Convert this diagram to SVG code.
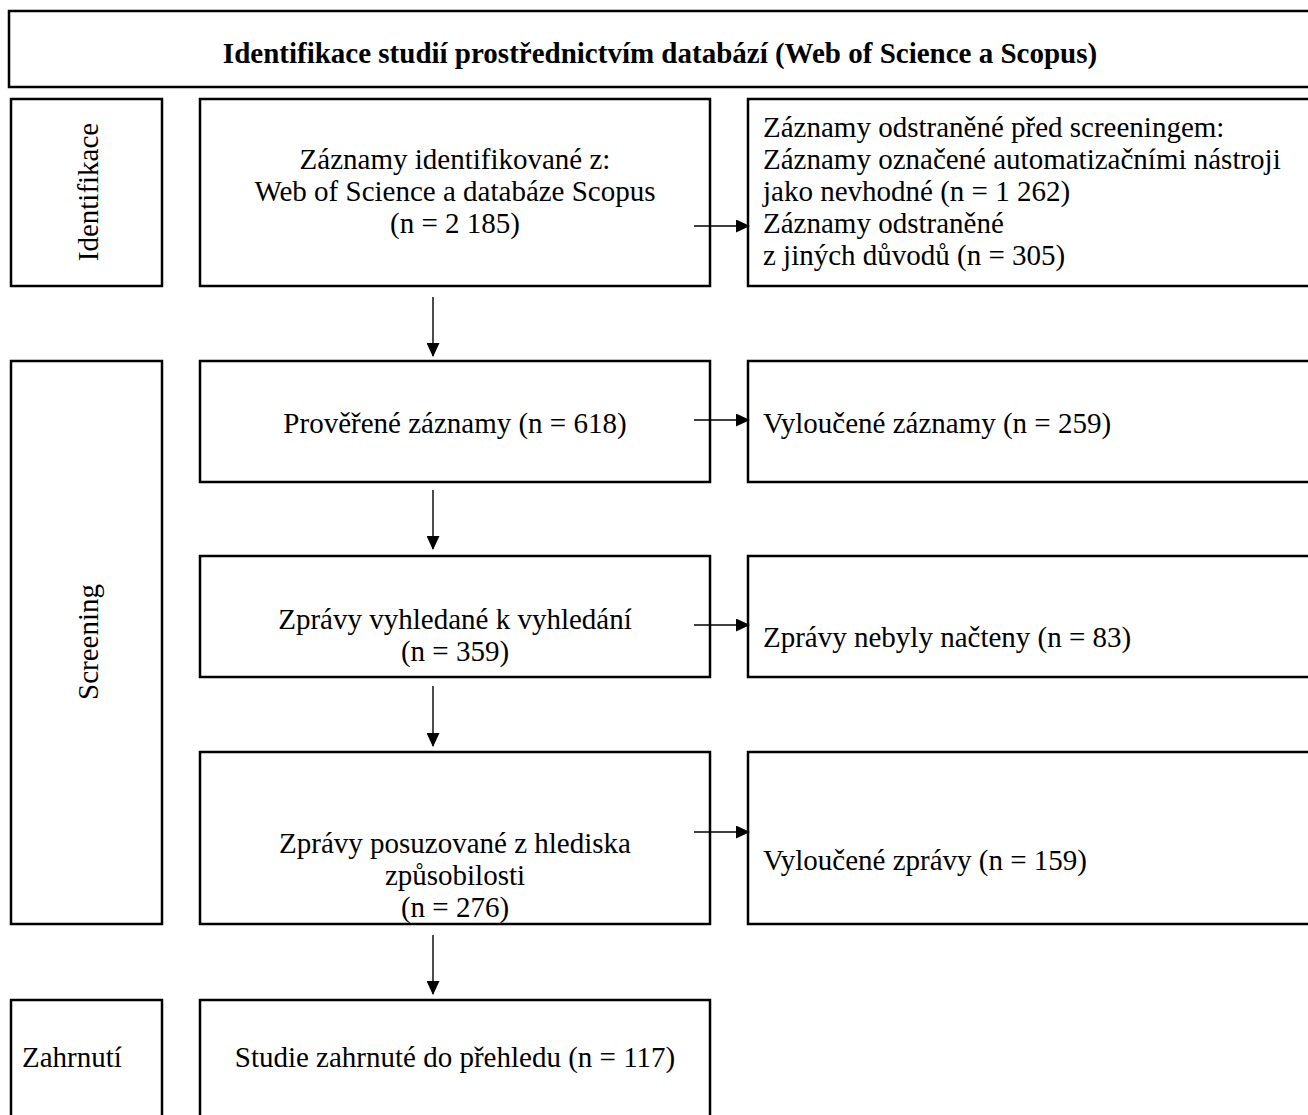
<svg xmlns="http://www.w3.org/2000/svg" width="1308" height="1115" viewBox="0 0 1308 1115">
  <defs>
    <style>
      .box { fill: #fff; stroke: #000; stroke-width: 2.5; }
      .t { font-family: "Liberation Serif", "Times New Roman", serif; font-size: 29px; fill: #000; }
      .c { text-anchor: middle; }
      .h { font-weight: bold; }
      .link { stroke: #000; stroke-width: 1.4; fill: none; marker-end: url(#head); }
    </style>
    <marker id="head" markerWidth="14" markerHeight="13" refX="13" refY="6.5" orient="auto" markerUnits="userSpaceOnUse" viewBox="0 0 14 13">
      <path d="M0,0 L14,6.5 L0,13 Z" fill="#000"/>
    </marker>
  </defs>
  <rect width="1308" height="1115" fill="#fff"/>

  <!-- header band -->
  <g id="header">
    <rect class="box" x="9" y="11" width="1310" height="76"/>
    <text class="t c h" x="660" y="63">Identifikace studií prostřednictvím databází (Web of Science a Scopus)</text>
  </g>

  <!-- phase labels -->
  <g id="phase-identifikace">
    <rect class="box" x="11" y="99" width="151" height="187"/>
    <text class="t c" transform="translate(98,192) rotate(-90)">Identifikace</text>
  </g>
  <g id="phase-screening">
    <rect class="box" x="11" y="361" width="151" height="563"/>
    <text class="t c" transform="translate(98,642) rotate(-90)">Screening</text>
  </g>
  <g id="phase-zahrnuti">
    <rect class="box" x="11" y="1000" width="151" height="130"/>
    <text class="t" x="22" y="1067">Zahrnutí</text>
  </g>

  <!-- main flow -->
  <g id="n-identified">
    <rect class="box" x="200" y="99" width="510" height="187"/>
    <text class="t c" x="455" y="169">Záznamy identifikované z:</text>
    <text class="t c" x="455" y="201">Web of Science a databáze Scopus</text>
    <text class="t c" x="455" y="233">(n = 2 185)</text>
  </g>
  <g id="n-screened">
    <rect class="box" x="200" y="361" width="510" height="121"/>
    <text class="t c" x="455" y="433">Prověřené záznamy (n = 618)</text>
  </g>
  <g id="n-sought">
    <rect class="box" x="200" y="556" width="510" height="121"/>
    <text class="t c" x="455" y="629">Zprávy vyhledané k vyhledání</text>
    <text class="t c" x="455" y="661">(n = 359)</text>
  </g>
  <g id="n-assessed">
    <rect class="box" x="200" y="752" width="510" height="172"/>
    <text class="t c" x="455" y="853">Zprávy posuzované z hlediska</text>
    <text class="t c" x="455" y="885">způsobilosti</text>
    <text class="t c" x="455" y="917">(n = 276)</text>
  </g>
  <g id="n-included">
    <rect class="box" x="200" y="1000" width="510" height="130"/>
    <text class="t c" x="455" y="1067">Studie zahrnuté do přehledu (n = 117)</text>
  </g>

  <!-- exclusion boxes -->
  <g id="x-removed">
    <rect class="box" x="748" y="99" width="580" height="187"/>
    <text class="t" x="763" y="137">Záznamy odstraněné před screeningem:</text>
    <text class="t" x="763" y="169">Záznamy označené automatizačními nástroji</text>
    <text class="t" x="763" y="201">jako nevhodné (n = 1 262)</text>
    <text class="t" x="763" y="233">Záznamy odstraněné</text>
    <text class="t" x="763" y="265">z jiných důvodů (n = 305)</text>
  </g>
  <g id="x-records">
    <rect class="box" x="748" y="361" width="580" height="121"/>
    <text class="t" x="763" y="433">Vyloučené záznamy (n = 259)</text>
  </g>
  <g id="x-notretrieved">
    <rect class="box" x="748" y="556" width="580" height="121"/>
    <text class="t" x="763" y="647">Zprávy nebyly načteny (n = 83)</text>
  </g>
  <g id="x-reports">
    <rect class="box" x="748" y="752" width="580" height="172"/>
    <text class="t" x="763" y="870">Vyloučené zprávy (n = 159)</text>
  </g>

  <!-- connectors -->
  <g id="connectors">
    <line class="link" x1="433" y1="297" x2="433" y2="356"/>
    <line class="link" x1="433" y1="490" x2="433" y2="549"/>
    <line class="link" x1="433" y1="686" x2="433" y2="746"/>
    <line class="link" x1="433" y1="935" x2="433" y2="994"/>
    <line class="link" x1="694" y1="226" x2="749" y2="226"/>
    <line class="link" x1="694" y1="420" x2="749" y2="420"/>
    <line class="link" x1="694" y1="625" x2="749" y2="625"/>
    <line class="link" x1="694" y1="832" x2="749" y2="832"/>
  </g>
</svg>
